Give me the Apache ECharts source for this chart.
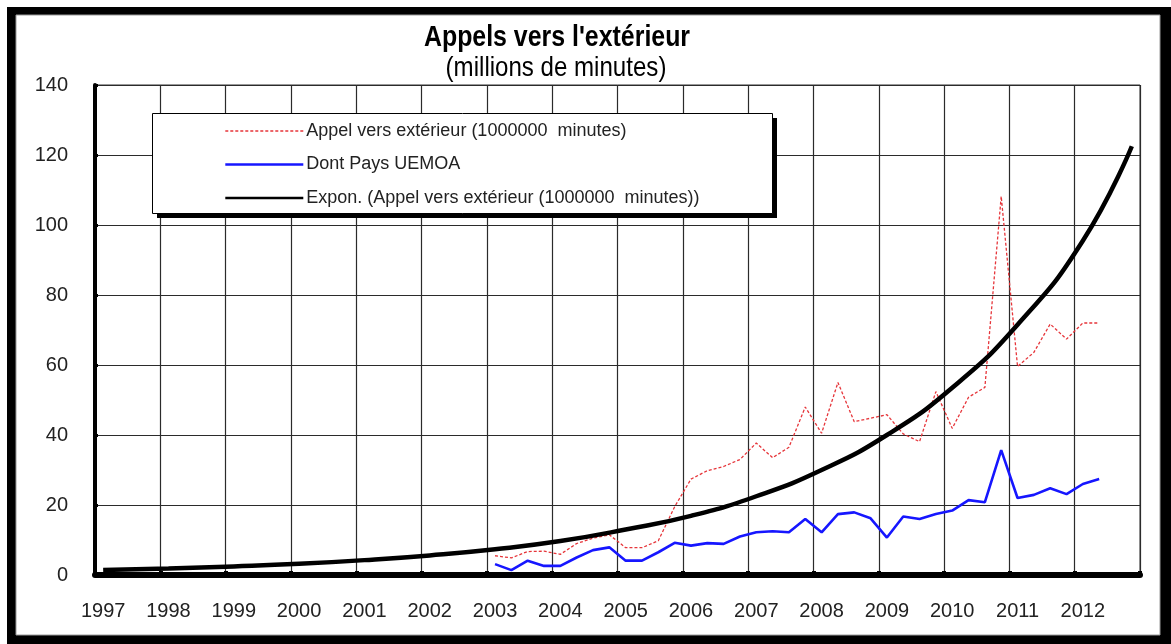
<!DOCTYPE html>
<html>
<head>
<meta charset="utf-8">
<title>Appels vers l'extérieur</title>
<script src="https://cdn.jsdelivr.net/npm/echarts@6/dist/echarts.min.js"></script>
<style>
  html, body { margin: 0; padding: 0; background: #fff; }
  #chart { width: 1171px; height: 644px; }
</style>
</head>
<body>
<div id="chart"></div>
<script>
// Years shown on the horizontal axis (one block of four quarters each)
const years = [1997, 1998, 1999, 2000, 2001, 2002, 2003, 2004,
               2005, 2006, 2007, 2008, 2009, 2010, 2011, 2012];

// Quarterly traffic, from the first quarter of 2003 to the second quarter of 2012
const firstQuarter = '2003T1';
const appelsExterieur = [
  5.5, 4.9, 6.7, 6.8,
  5.9, 9.0, 10.5, 11.5,
  7.8, 7.8, 9.8, 19.5,
  27.4, 29.8, 31.0, 33.0,
  37.7, 33.5, 36.5, 48.0,
  40.5, 55.0, 43.8, 44.8,
  45.8, 40.3, 38.1, 52.4,
  41.9, 50.8, 53.6, 108.2,
  59.6, 63.6, 71.7, 67.4,
  72.0, 72.0
];
const paysUEMOA = [
  3.1, 1.4, 4.1, 2.6,
  2.6, 5.0, 7.1, 7.9,
  4.1, 4.1, 6.5, 9.2,
  8.4, 9.1, 8.9, 11.0,
  12.2, 12.5, 12.2, 16.0,
  12.2, 17.4, 17.9, 16.2,
  10.7, 16.7, 16.0, 17.4,
  18.4, 21.4, 20.8, 35.7,
  22.0, 22.9, 24.8, 23.1,
  26.0, 27.4
];

// Exponential trend line, read at the first quarter of each year and at the last quarter
const trendQuarters = ['1997T1', '1998T1', '1999T1', '2000T1', '2001T1', '2002T1',
                       '2003T1', '2004T1', '2005T1', '2006T1', '2007T1', '2008T1',
                       '2009T1', '2010T1', '2011T1', '2012T1', '2012T4'];
const trendValues = [1.4, 1.85, 2.45, 3.2, 4.25, 5.6, 7.35, 9.7, 13.0, 16.9,
                     22.5, 30.0, 40.0, 53.5, 71.5, 95.5, 122.5];

// y-axis scale
const yMin = 0, yMax = 140, yStep = 20;

const chartTitle = "Appels vers l'extérieur";
const chartSubtitle = '(millions de minutes)';
const seriesNames = [
  'Appel vers extérieur (1000000  minutes)',
  'Dont Pays UEMOA',
  'Expon. (Appel vers extérieur (1000000  minutes))'
];

// ---- derived data -------------------------------------------------------
const quarters = [];
years.forEach(y => { for (let q = 1; q <= 4; q++) quarters.push(y + 'T' + q); });

function placeSeries(values, start) {
  const out = quarters.map(() => null);
  const i0 = quarters.indexOf(start);
  values.forEach((v, i) => { out[i0 + i] = v; });
  return out;
}
const trendData = trendQuarters.map((q, i) => [q, trendValues[i]]);

const SANS = "'Liberation Sans', Arial, Helvetica, sans-serif";
const RED = '#e6353a', BLUE = '#1616ff', BLACK = '#000';

const chart = echarts.init(document.getElementById('chart'), null, { renderer: 'canvas' });

chart.setOption({
  backgroundColor: '#ffffff',
  animation: false,
  graphic: [
    // outer frame with its dark shadow
    { type: 'rect', z: -10, shape: { x: 7, y: 7, width: 1164, height: 637 },
      style: { fill: '#000' } },
    { type: 'rect', z: -9, shape: { x: 16, y: 15, width: 1144, height: 620 },
      style: { fill: '#fff', stroke: '#9a9a9a', lineWidth: 1 } },
    // condensed title lines
    { type: 'text', z: 5, x: 557, y: 38, scaleX: 0.83,
      style: { text: chartTitle, fill: '#000', font: "bold 30px " + SANS,
               textAlign: 'center', textVerticalAlign: 'middle' } },
    { type: 'text', z: 5, x: 556, y: 68, scaleX: 0.86,
      style: { text: chartSubtitle, fill: '#000', font: "28px " + SANS,
               textAlign: 'center', textVerticalAlign: 'middle' } },
    // legend box with offset shadow
    { type: 'rect', z: 30, shape: { x: 157, y: 118, width: 620, height: 100 },
      style: { fill: '#000' } },
    { type: 'rect', z: 31, shape: { x: 152.5, y: 113.5, width: 620, height: 100 },
      style: { fill: '#fff', stroke: '#000', lineWidth: 1 } }
  ],
  legend: {
    z: 40,
    orient: 'vertical',
    left: 224,
    top: 121,
    itemWidth: 78,
    itemHeight: 20,
    itemGap: 13.5,
    padding: 0,
    itemStyle: { opacity: 0 },
    textStyle: { fontFamily: SANS, fontSize: 18, lineHeight: 20, color: '#222',
                 padding: [0, 0, 0, -2] },
    data: [
      { name: seriesNames[0], lineStyle: { width: 1.3 } },
      { name: seriesNames[1], lineStyle: { width: 2.6 } },
      { name: seriesNames[2], lineStyle: { width: 2.6 } }
    ]
  },
  grid: {
    left: 95, right: 31, top: 85, bottom: 69,
    show: true, borderColor: '#333', borderWidth: 1,
    containLabel: false
  },
  xAxis: {
    type: 'category',
    data: quarters,
    boundaryGap: true,
    axisLine: { show: true, lineStyle: { color: '#000', width: 6 } },
    axisTick: { show: true, inside: true, interval: 3, length: 4,
                lineStyle: { color: '#000', width: 4 } },
    splitLine: { show: true, interval: 3, lineStyle: { color: '#2b2b2b', width: 1.2 } },
    axisLabel: {
      interval: 3,
      margin: 26,
      fontFamily: SANS, fontSize: 20, color: '#222',
      formatter: v => v.slice(0, 4)
    }
  },
  yAxis: {
    type: 'value',
    min: yMin, max: yMax, interval: yStep,
    axisLine: { show: true, lineStyle: { color: '#000', width: 4 } },
    axisTick: { show: true, inside: true, length: 3, lineStyle: { color: '#000', width: 3 } },
    splitLine: { show: true, lineStyle: { color: '#2b2b2b', width: 1.2 } },
    axisLabel: { margin: 27, fontFamily: SANS, fontSize: 20, color: '#222' }
  },
  series: [
    {
      name: seriesNames[0],
      type: 'line',
      data: placeSeries(appelsExterieur, firstQuarter),
      symbol: 'none',
      z: 3,
      lineStyle: { color: RED, width: 1.3, type: [3, 2] },
      itemStyle: { color: RED }
    },
    {
      name: seriesNames[1],
      type: 'line',
      data: placeSeries(paysUEMOA, firstQuarter),
      symbol: 'none',
      z: 3,
      lineStyle: { color: BLUE, width: 2.6 },
      itemStyle: { color: BLUE }
    },
    {
      name: seriesNames[2],
      type: 'line',
      data: trendData,
      symbol: 'none',
      smooth: 0.5,
      z: 4,
      lineStyle: { color: BLACK, width: 4.5 },
      itemStyle: { color: BLACK }
    }
  ]
});
</script>
</body>
</html>
